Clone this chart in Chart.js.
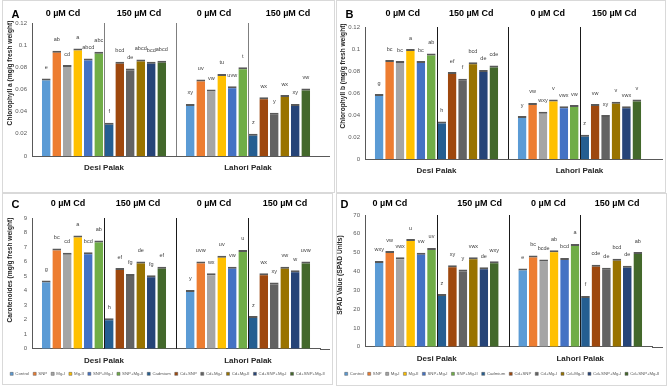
<!DOCTYPE html>
<html><head><meta charset="utf-8">
<script src="https://cdn.jsdelivr.net/npm/chart.js@4.4.1/dist/chart.umd.min.js"></script>
<style>
html,body{margin:0;padding:0;background:#fff;}
body{width:669px;height:387px;position:relative;overflow:hidden;}
.box{position:absolute;border:1px solid #d9d9d9;box-sizing:border-box;}
canvas{position:absolute;}
</style></head><body>
<div class="box" style="left:2px;top:0;width:333px;height:193px"></div>
<div class="box" style="left:336px;top:0;width:330px;height:193px"></div>
<div class="box" style="left:2px;top:193px;width:331px;height:192px"></div>
<div class="box" style="left:336px;top:193px;width:331px;height:193px"></div>
<canvas id="cA" width="335" height="193" style="left:0;top:0"></canvas>
<canvas id="cB" width="334" height="193" style="left:335px;top:0"></canvas>
<canvas id="cC" width="335" height="194" style="left:0;top:193px"></canvas>
<canvas id="cD" width="334" height="194" style="left:335px;top:193px"></canvas>
<script>
const categories = ['Desi Palak', 'Lahori Palak'];
const cdLevels = ['0 µM Cd', '150 µM Cd'];
const treatments = ['Control','SNP','Mg-I','Mg-II','SNP+Mg-I','SNP+Mg-II','Cadmium','Cd+SNP','Cd+Mg-I','Cd+Mg-II','Cd+SNP+Mg-I','Cd+SNP+Mg-II'];

const chlA_desi   = [0.070,0.095,0.082,0.097,0.088,0.094,0.030,0.085,0.079,0.087,0.085,0.086];
const chlA_lahori = [0.047,0.069,0.060,0.074,0.063,0.080,0.020,0.053,0.039,0.055,0.047,0.061];
const chlA_let_desi   = ['e','ab','cd','a','abcd','abc','f','bcd','de','abcd','bcd','abcd'];
const chlA_let_lahori = ['xy','uv','vw','tu','uvw','t','z','wx','y','wx','xy','vw'];

const chlB_desi   = [0.059,0.090,0.089,0.100,0.089,0.096,0.034,0.079,0.073,0.088,0.081,0.085];
const chlB_lahori = [0.039,0.051,0.043,0.054,0.048,0.049,0.022,0.050,0.040,0.052,0.048,0.054];
const chlB_let_desi   = ['g','bc','bc','a','bc','ab','h','ef','f','bcd','de','cde'];
const chlB_let_lahori = ['y','vw','wxy','v','vwx','vw','z','vw','xy','v','vwx','v'];

const car_desi   = [4.70,6.90,6.60,7.80,6.65,7.45,2.10,5.55,5.15,6.00,5.05,5.65];
const car_lahori = [4.05,6.00,5.20,6.40,5.65,6.80,2.25,5.20,4.55,5.65,5.40,6.00];
const car_let_desi   = ['g','bc','cd','a','bcd','ab','h','ef','fg','de','fg','ef'];
const car_let_lahori = ['y','uvw','wx','uv','vw','u','z','wx','xy','vw','w','uvw'];

const spad_desi   = [45.6,50.8,47.6,57.2,50.0,52.5,28.0,43.3,41.0,47.6,42.2,45.4];
const spad_lahori = [41.5,48.5,46.3,51.3,47.2,54.6,27.0,43.5,42.0,46.8,43.0,50.3];
const spad_let_desi   = ['wxy','vw','vwx','u','vw','uv','z','xy','y','vwx','de','wxy'];
const spad_let_lahori = ['e','bc','bcde','ab','bcd','a','f','cde','de','bcd','de','ab'];

const colors = ['#5B9BD5','#ED7D31','#A5A5A5','#FFC000','#4472C4','#70AD47','#255E91','#9E480E','#636363','#997300','#264478','#43682B'];

const deco = {
  id: 'deco',
  afterDatasetsDraw(chart, args, o) {
    const ctx = chart.ctx, ca = chart.chartArea, xs = chart.scales.x;
    ctx.save();
    ctx.lineWidth = 1;
    ctx.strokeStyle = '#595959';
    ctx.beginPath(); ctx.moveTo(ca.right, Math.round(ca.bottom) + 0.5); ctx.lineTo(ca.right + o.ext, Math.round(ca.bottom) + 0.5); ctx.stroke();
    const c0 = xs.getPixelForValue(0), c1 = xs.getPixelForValue(1), cw = c1 - c0;
    ctx.strokeStyle = o.divColor;
    [c0, (c0 + c1) / 2, c1].forEach(x => {
      x = Math.round(x) + 0.5;
      ctx.beginPath(); ctx.moveTo(x, ca.top); ctx.lineTo(x, ca.bottom); ctx.stroke();
    });
    ctx.textAlign = 'center'; ctx.textBaseline = 'middle';
    ctx.fillStyle = '#000';
    ctx.font = 'bold 9px "Liberation Sans"';
    let k = 0;
    [c0, c1].forEach(c => {
      [c - cw / 4, c + cw / 4].forEach((x, j) => { ctx.fillText(cdLevels[j], x + o.hOff[k], o.headerY); k++; });
    });
    ctx.font = '5.5px "Liberation Sans"'; ctx.fillStyle = '#404040';
    chart.data.datasets.forEach((ds, i) => {
      const meta = chart.getDatasetMeta(i);
      meta.data.forEach((bar, j) => { ctx.fillText(o.labels[j][i], bar.x, bar.y - 11); });
    });
    ctx.font = 'bold 11px "Liberation Sans"'; ctx.fillStyle = '#000';
    ctx.fillText(o.letter, o.letterX, o.letterY);
    ctx.translate(o.titleX, o.titleY); ctx.rotate(-Math.PI / 2);
    ctx.font = 'bold 6.6px "Liberation Sans"'; ctx.fillStyle = '#262626';
    ctx.fillText(o.title, 0, 0);
    ctx.restore();
  }
};

function makeChart(p) {
  const datasets = treatments.map((t, i) => ({
    label: t,
    data: [p.desi[i], p.lahori[i]],
    backgroundColor: colors[i],
    borderColor: '#595959',
    borderWidth: {top: 2, left: 0, right: 0, bottom: 0},
    categoryPercentage: 0.875,
    barPercentage: 0.83
  }));
  new Chart(document.getElementById(p.id), {
    type: 'bar',
    data: {labels: categories, datasets},
    plugins: [deco],
    options: {
      responsive: false, animation: false, devicePixelRatio: 1,
      layout: {padding: p.pad},
      plugins: {
        tooltip: {enabled: false},
        legend: {
          display: p.legend, position: 'bottom',
          labels: {boxWidth: 3, boxHeight: 3, padding: 4, color: '#595959', font: {size: 4.3, family: '"Liberation Sans"'}}
        },
        deco: {
          letter: p.letter, letterX: p.letterX, letterY: p.letterY, title: p.title, titleX: p.titleX, titleY: p.titleY,
          headerY: p.headerY, hOff: p.hOff, divColor: p.divColor, ext: p.ext,
          labels: [p.ld, p.ll]
        }
      },
      scales: {
        x: {
          grid: {display: false, drawTicks: false}, border: {display: true, color: '#595959'},
          ticks: {color: '#262626', padding: 7, font: {size: 8, weight: 'bold', family: '"Liberation Sans"'}},
          afterFit: s => { s.height = p.xh; }
        },
        y: {
          min: 0, max: p.max, grid: {display: false, drawTicks: false}, border: {display: true, color: '#595959'},
          ticks: {stepSize: p.step, color: '#595959', padding: 5, font: {size: 6, family: '"Liberation Sans"'},
                  callback: v => String(+(+v).toFixed(p.dec))},
          afterFit: s => { s.width = p.yw; }
        },
        yr: {
          position: 'right', display: true, min: 0, max: p.max,
          grid: {display: false, drawTicks: false}, border: {display: false},
          ticks: {display: false},
          afterFit: s => { s.width = p.rw; }
        }
      }
    }
  });
}

makeChart({id:'cA', letter:'A', letterX:15.5, letterY:15, title:'Chlorophyll a (mg/g fresh weight)', titleX:10, titleY:73,
  headerY:13.5, hOff:[-5,-1,2,4], divColor:'#7f7f7f', ext:10,
  desi:chlA_desi, lahori:chlA_lahori, ld:chlA_let_desi, ll:chlA_let_lahori,
  max:0.12, step:0.02, dec:2, yw:18, rw:13, pad:{left:14,right:2,top:23,bottom:17}, xh:20, legend:false});
makeChart({id:'cB', letter:'B', letterX:14.5, letterY:15, title:'Chlorophyll b (mg/g fresh weight)', titleX:8, titleY:76,
  headerY:13.5, hOff:[2,-1,4,-1], divColor:'#1a1a1a', ext:12,
  desi:chlB_desi, lahori:chlB_lahori, ld:chlB_let_desi, ll:chlB_let_lahori,
  max:0.12, step:0.02, dec:2, yw:18, rw:16, pad:{left:12,right:2,top:27,bottom:14}, xh:20, legend:false});
makeChart({id:'cC', letter:'C', letterX:15.5, letterY:12, title:'Carotenoides (mg/g fresh weight)', titleX:10, titleY:77,
  headerY:11, hOff:[0,-2,2,1], divColor:'#1a1a1a', ext:10,
  desi:car_desi, lahori:car_lahori, ld:car_let_desi, ll:car_let_lahori,
  max:9, step:1, dec:0, yw:30, rw:13, pad:{left:2,right:2,top:25,bottom:1}, xh:19, legend:true});
makeChart({id:'cD', letter:'D', letterX:9.5, letterY:12, title:'SPAD Value (SPAD Units)', titleX:5, titleY:82,
  headerY:11, hOff:[-11,7,4,1], divColor:'#1a1a1a', ext:11,
  desi:spad_desi, lahori:spad_lahori, ld:spad_let_desi, ll:spad_let_lahori,
  max:70, step:10, dec:0, yw:28, rw:15, pad:{left:2,right:2,top:22,bottom:1}, xh:21, legend:true});
</script>
</body></html>
